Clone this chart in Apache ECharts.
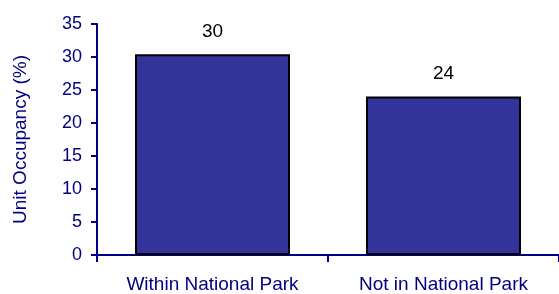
<!DOCTYPE html>
<html>
<head>
<meta charset="utf-8">
<script src="https://cdn.jsdelivr.net/npm/echarts@6/dist/echarts.min.js"></script>
<style>
html, body { margin: 0; padding: 0; background: #fff; }
#chart { width: 559px; height: 294px; }
</style>
</head>
<body>
<div id="chart"></div>
<script>
'use strict'
var categories = ['Within National Park', 'Not in National Park'];
var occupancy = [30.4, 24.0];
var yTicks = { min: 0, max: 35, interval: 5 };

var navy = '#000080';
var font = 'Liberation Sans, Arial, sans-serif';
var chart = echarts.init(document.getElementById('chart'));
var option = {
    animation: false,
    grid: { left: 97, right: -5, top: 24, bottom: 36 },
    xAxis: {
        type: 'category',
        data: categories,
        axisLine: { lineStyle: { color: navy, width: 2 } },
        axisTick: { show: true, length: 7, lineStyle: { color: navy, width: 2 } },
        axisLabel: { color: navy, fontSize: 19, margin: 20, fontFamily: font }
    },
    yAxis: {
        type: 'value',
        min: yTicks.min,
        max: yTicks.max,
        interval: yTicks.interval,
        name: 'Unit Occupancy (%)',
        nameLocation: 'middle',
        nameGap: 67,
        nameTextStyle: { color: navy, fontSize: 19, fontFamily: font },
        splitLine: { show: false },
        axisLine: { show: true, lineStyle: { color: navy, width: 2 } },
        axisTick: { show: true, length: 6, lineStyle: { color: navy, width: 2 } },
        axisLabel: { color: navy, fontSize: 18, margin: 15, fontFamily: font }
    },
    series: [{
        type: 'bar',
        data: occupancy,
        barWidth: 155,
        itemStyle: { color: '#333399', borderColor: '#000', borderWidth: 2 },
        label: {
            show: true,
            position: 'top',
            distance: 13,
            color: '#000',
            fontSize: 19,
            fontFamily: font,
            formatter: function (p) { return Math.round(p.value); }
        }
    }]
};
chart.setOption(option);
</script>
</body>
</html>
